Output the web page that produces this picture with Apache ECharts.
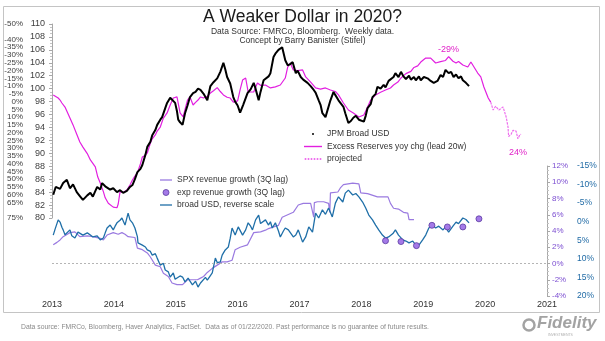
<!DOCTYPE html>
<html><head><meta charset="utf-8">
<script src="https://cdn.jsdelivr.net/npm/echarts@6/dist/echarts.min.js"></script>
<style>html,body{margin:0;padding:0;background:#fff}#c{width:605px;height:341px}</style>
</head><body><div id="c"></div>
<script>
// ---- data (x = decimal year) ----
const jpmUsd = [
[2013.02,83.6],[2013.06,84.8],[2013.13,84.5],[2013.18,85.4],[2013.24,85.9],[2013.29,84.6],[2013.34,85.2],[2013.40,84.0],
[2013.45,83.4],[2013.50,82.8],[2013.57,83.5],[2013.62,83.9],[2013.66,83.3],[2013.73,84.8],[2013.78,84.4],[2013.81,85.4],
[2013.86,84.9],[2013.89,85.2],[2013.94,84.4],[2013.99,84.6],[2014.05,84.0],[2014.10,84.3],[2014.15,83.9],[2014.21,84.2],
[2014.26,84.8],[2014.30,85.1],[2014.34,86.0],[2014.38,87.1],[2014.43,87.6],[2014.46,88.2],[2014.51,89.8],[2014.54,91.0],
[2014.59,91.8],[2014.62,92.8],[2014.67,93.6],[2014.70,94.4],[2014.75,95.2],[2014.78,95.6],[2014.83,97.0],[2014.86,97.8],
[2014.91,98.6],[2014.94,98.9],[2014.99,97.8],[2015.02,96.5],[2015.04,95.2],[2015.07,94.8],[2015.11,94.4],[2015.15,96.2],
[2015.19,97.4],[2015.23,98.7],[2015.28,99.3],[2015.32,99.5],[2015.36,100.0],[2015.40,99.8],[2015.45,99.2],[2015.48,98.7],
[2015.51,98.2],[2015.56,100.4],[2015.61,101.0],[2015.67,101.6],[2015.72,102.6],[2015.77,104.0],[2015.80,103.0],[2015.83,101.8],
[2015.88,100.8],[2015.93,98.7],[2015.96,98.0],[2016.00,97.4],[2016.04,96.3],[2016.09,97.5],[2016.16,99.3],[2016.21,99.9],
[2016.26,100.9],[2016.29,100.0],[2016.34,98.2],[2016.37,99.5],[2016.42,101.3],[2016.45,101.0],[2016.50,101.9],[2016.53,102.4],
[2016.58,104.9],[2016.61,105.4],[2016.66,106.0],[2016.69,105.8],[2016.72,106.4],[2016.77,104.4],[2016.81,103.6],[2016.82,103.4],
[2016.85,103.8],[2016.89,104.1],[2016.94,102.4],[2016.97,102.8],[2017.02,101.8],[2017.06,101.4],[2017.13,100.9],[2017.18,100.4],
[2017.23,99.8],[2017.26,99.4],[2017.31,98.2],[2017.34,97.5],[2017.37,96.2],[2017.42,95.6],[2017.45,95.4],[2017.50,98.2],
[2017.55,99.5],[2017.58,99.0],[2017.63,98.2],[2017.66,98.5],[2017.71,97.2],[2017.74,96.2],[2017.79,94.7],[2017.83,95.0],
[2017.87,95.5],[2017.91,95.8],[2017.96,95.2],[2017.99,95.5],[2018.04,94.9],[2018.07,95.8],[2018.10,97.0],[2018.15,97.6],
[2018.18,98.7],[2018.23,99.2],[2018.26,100.3],[2018.31,100.0],[2018.36,100.6],[2018.39,100.2],[2018.44,101.2],[2018.47,101.0],
[2018.52,101.8],[2018.55,102.4],[2018.60,101.8],[2018.64,102.6],[2018.68,101.9],[2018.72,101.5],[2018.77,102.0],[2018.80,101.4],
[2018.85,101.8],[2018.88,101.3],[2018.93,101.9],[2018.96,101.3],[2019.01,101.8],[2019.07,101.6],[2019.12,101.2],[2019.17,100.9],
[2019.23,101.2],[2019.28,102.1],[2019.32,101.8],[2019.36,102.9],[2019.41,102.4],[2019.45,102.6],[2019.49,101.8],[2019.53,102.2],
[2019.57,101.6],[2019.61,101.9],[2019.64,101.3],[2019.69,100.9],[2019.72,100.6],[2019.74,100.4]
];
const excessReserves = [
[2013.02,-4.3],[2013.05,-3.5],[2013.10,-2.3],[2013.13,-1.0],[2013.16,0.9],[2013.21,3.5],[2013.24,3.0],[2013.29,10.6],
[2013.34,15.0],[2013.40,21.0],[2013.45,26.0],[2013.50,29.3],[2013.57,33.5],[2013.62,37.6],[2013.70,42.0],[2013.74,48.6],
[2013.78,52.4],[2013.83,58.0],[2013.86,62.0],[2013.91,65.5],[2013.94,66.6],[2013.99,68.0],[2014.02,68.6],[2014.05,68.4],
[2014.07,66.0],[2014.10,58.0],[2014.15,58.5],[2014.21,57.0],[2014.26,53.7],[2014.30,50.5],[2014.34,48.0],[2014.38,46.0],
[2014.43,40.0],[2014.46,35.7],[2014.51,34.5],[2014.54,33.1],[2014.59,26.7],[2014.62,24.0],[2014.67,21.5],[2014.70,19.0],
[2014.75,16.4],[2014.80,10.6],[2014.83,9.0],[2014.86,7.3],[2014.91,2.2],[2014.96,-2.3],[2014.99,-3.5],[2015.02,-3.0],
[2015.07,7.3],[2015.12,9.9],[2015.15,5.0],[2015.19,-1.0],[2015.23,-3.0],[2015.28,2.2],[2015.32,0.5],[2015.36,-1.0],
[2015.40,-3.0],[2015.45,-2.3],[2015.51,-3.5],[2015.56,-5.5],[2015.61,-7.0],[2015.67,-9.0],[2015.69,-8.8],[2015.72,-6.5],
[2015.77,-4.3],[2015.83,-2.8],[2015.88,-2.3],[2015.93,0.3],[2016.00,-0.5],[2016.04,-7.5],[2016.08,-13.9],[2016.13,-15.2],
[2016.17,-6.2],[2016.26,-6.2],[2016.32,-12.0],[2016.37,-10.5],[2016.45,-10.7],[2016.53,-8.8],[2016.61,-9.5],[2016.69,-10.7],
[2016.77,-15.2],[2016.81,-22.3],[2016.85,-24.9],[2016.90,-20.4],[2016.97,-20.0],[2017.05,-20.4],[2017.10,-15.9],[2017.18,-12.6],
[2017.26,-8.8],[2017.34,-8.0],[2017.42,-8.8],[2017.50,-7.5],[2017.58,-6.5],[2017.63,-4.3],[2017.71,0.9],[2017.79,5.4],
[2017.87,7.3],[2017.96,9.9],[2018.04,8.6],[2018.10,3.5],[2018.15,-1.0],[2018.23,-4.3],[2018.31,-6.0],[2018.39,-7.5],
[2018.47,-8.8],[2018.52,-10.7],[2018.59,-12.6],[2018.64,-15.2],[2018.72,-18.0],[2018.80,-19.5],[2018.85,-22.0],[2018.91,-23.0],
[2018.96,-25.5],[2019.04,-28.1],[2019.12,-28.0],[2019.20,-24.9],[2019.28,-25.8],[2019.36,-26.5],[2019.41,-29.0],[2019.48,-26.0],
[2019.53,-24.9],[2019.57,-25.8],[2019.64,-23.6],[2019.72,-22.3],[2019.77,-25.5],[2019.82,-22.3],[2019.88,-18.4],[2019.93,-15.9],
[2019.98,-9.4],[2020.05,-2.3],[2020.09,0.3]
];
const projected = [
[2020.09,0.3],[2020.13,5.4],[2020.17,3.0],[2020.22,5.4],[2020.29,3.5],[2020.34,9.9],[2020.37,16.4],[2020.38,22.5],
[2020.42,21.0],[2020.45,18.5],[2020.50,19.0],[2020.53,24.0],[2020.56,21.5],[2020.58,21.0]
];
const spxRevenue = [
[2013.02,2.3],[2013.08,2.6],[2013.13,2.9],[2013.18,3.3],[2013.29,3.8],[2013.37,3.9],[2013.45,3.3],[2013.57,3.4],
[2013.66,3.3],[2013.78,3.1],[2013.83,2.9],[2013.89,3.5],[2013.99,3.8],[2014.07,3.6],[2014.13,3.8],[2014.18,3.6],
[2014.23,3.3],[2014.34,3.2],[2014.38,1.9],[2014.46,1.7],[2014.54,1.3],[2014.59,0.8],[2014.67,-0.2],[2014.75,-0.4],
[2014.80,-1.2],[2014.88,-1.6],[2014.94,-2.4],[2015.02,-2.6],[2015.11,-2.6],[2015.19,-2.0],[2015.27,-2.0],[2015.35,-2.0],
[2015.40,-1.8],[2015.45,-1.6],[2015.51,-1.1],[2015.59,-0.6],[2015.67,-0.2],[2015.75,0.2],[2015.83,0.2],[2015.91,0.4],
[2015.96,1.7],[2016.04,2.0],[2016.16,2.3],[2016.26,3.8],[2016.37,3.9],[2016.45,4.1],[2016.50,4.3],[2016.58,4.5],
[2016.66,4.7],[2016.72,5.7],[2016.81,6.0],[2016.90,6.3],[2016.98,7.2],[2017.06,7.4],[2017.18,7.4],[2017.23,5.7],
[2017.24,7.5],[2017.29,7.6],[2017.39,7.6],[2017.47,7.4],[2017.49,6.3],[2017.50,8.7],[2017.62,8.8],[2017.66,9.3],
[2017.71,9.7],[2017.86,9.9],[2017.96,9.8],[2017.99,8.7],[2018.10,8.6],[2018.26,8.2],[2018.43,8.2],[2018.47,7.4],
[2018.52,6.8],[2018.60,6.7],[2018.68,6.3],[2018.75,6.2],[2018.77,5.4],[2018.85,5.4]
];
const expRevenue = [
[2018.39,2.8],[2018.64,2.7],[2018.89,2.2],[2019.14,4.7],[2019.39,4.5],[2019.64,4.5],[2019.90,5.5]
];
const broadUsdRev = [
[2013.02,3.6],[2013.05,2.0],[2013.10,-0.5],[2013.13,0.1],[2013.16,1.5],[2013.18,2.2],[2013.21,3.5],[2013.24,3.0],
[2013.29,2.2],[2013.32,3.8],[2013.37,4.4],[2013.42,2.8],[2013.45,3.2],[2013.50,3.6],[2013.57,3.0],[2013.62,3.6],
[2013.66,4.1],[2013.73,3.8],[2013.78,4.9],[2013.83,4.4],[2013.86,3.0],[2013.89,1.7],[2013.94,0.9],[2013.99,2.2],
[2014.02,1.2],[2014.05,0.3],[2014.10,-0.4],[2014.13,-1.0],[2014.18,0.9],[2014.23,-2.3],[2014.26,-0.5],[2014.30,0.3],
[2014.34,1.7],[2014.38,4.0],[2014.39,5.7],[2014.46,6.3],[2014.51,6.8],[2014.54,7.6],[2014.59,8.0],[2014.62,9.0],
[2014.67,8.6],[2014.70,9.8],[2014.75,11.7],[2014.80,11.2],[2014.83,13.0],[2014.88,13.5],[2014.91,14.9],[2014.96,13.8],
[2014.99,15.5],[2015.02,15.7],[2015.07,14.6],[2015.11,14.9],[2015.15,16.2],[2015.20,15.2],[2015.23,16.0],[2015.27,17.0],
[2015.32,16.0],[2015.36,17.6],[2015.40,16.5],[2015.43,16.2],[2015.48,15.0],[2015.51,15.7],[2015.56,14.5],[2015.59,13.8],
[2015.64,9.8],[2015.67,11.0],[2015.72,10.8],[2015.75,9.0],[2015.80,7.6],[2015.85,6.8],[2015.88,4.5],[2015.91,1.7],
[2015.96,3.6],[2016.01,1.4],[2016.08,3.6],[2016.13,2.2],[2016.17,0.3],[2016.21,1.2],[2016.24,2.2],[2016.29,-0.5],
[2016.34,-1.8],[2016.37,0.5],[2016.40,0.9],[2016.45,-0.5],[2016.50,0.9],[2016.53,0.0],[2016.56,1.7],[2016.61,0.3],
[2016.66,2.5],[2016.69,4.1],[2016.74,2.5],[2016.77,1.7],[2016.82,2.2],[2016.85,1.7],[2016.90,4.1],[2016.94,3.6],
[2016.98,2.2],[2017.05,5.5],[2017.10,4.1],[2017.15,1.4],[2017.21,2.8],[2017.26,-2.3],[2017.31,-1.0],[2017.37,-3.2],
[2017.42,-2.0],[2017.47,-3.7],[2017.53,-1.3],[2017.58,-5.0],[2017.63,-6.7],[2017.70,-5.3],[2017.74,-7.7],[2017.79,-8.5],
[2017.86,-7.2],[2017.91,-7.6],[2017.96,-6.7],[2018.02,-5.3],[2018.07,-3.7],[2018.12,-1.8],[2018.18,-0.5],[2018.23,0.9],
[2018.28,2.2],[2018.34,3.6],[2018.39,4.4],[2018.44,4.1],[2018.51,3.2],[2018.55,2.2],[2018.60,3.6],[2018.67,4.9],
[2018.72,5.2],[2018.77,5.7],[2018.83,5.2],[2018.88,6.3],[2018.93,6.3],[2018.99,4.9],[2019.04,3.6],[2019.09,1.7],
[2019.15,0.9],[2019.20,1.7],[2019.25,1.2],[2019.32,2.2],[2019.36,1.4],[2019.41,2.8],[2019.48,1.2],[2019.53,0.1],
[2019.57,0.5],[2019.64,-1.0],[2019.69,-0.6],[2019.74,0.3]
];
const yearRange = [2013, 2021];
const usdRange = [80, 110];
const reservesRange = [-50, 75];
const spxRange = [-4, 12];
const usdRevRange = [-15, 20];

const FONT = '"Liberation Sans", Arial, sans-serif';
const AX = '#a8a8a8';
const MAG = '#e21fe0', MAG2 = '#ee70ee', PUR = '#9a7ae0', BLU = '#1f6fa8';
const pct = v => v + '%';
const hline = 'path://M0,0h12v1.3h-12z';
const dots = 'path://M0,0h1.6v2h-1.6zM3,0h1.6v2h-1.6zM6,0h1.6v2h-1.6zM9,0h1.6v2h-1.6zM12,0h1.6v2h-1.6zM15,0h1.6v2h-1.6z';

const chart = echarts.init(document.getElementById('c'), null, {renderer: 'canvas'});
chart.setOption({
  animation: false,
  backgroundColor: '#fff',
  textStyle: {fontFamily: FONT},
  title: [
    {text: 'A Weaker Dollar in 2020?', subtext: 'Data Source: FMRCo, Bloomberg.  Weekly data.\nConcept by Barry Banister (Stifel)',
     left: 'center', top: 8, padding: 0, itemGap: 1,
     textStyle: {fontSize: 17.5, fontWeight: 'normal', color: '#1a1a1a', fontFamily: FONT},
     subtextStyle: {fontSize: 8.5, lineHeight: 9, color: '#333', fontFamily: FONT}},
    {text: 'Data source: FMRCo, Bloomberg, Haver Analytics, FactSet.  Data as of 01/22/2020. Past performance is no guarantee of future results.',
     left: 21, top: 324, padding: 0,
     textStyle: {fontSize: 6.8, fontWeight: 'normal', color: '#8a8a8a', fontFamily: FONT}}
  ],
  grid: [
    {left: 52, right: 58, top: 24, height: 194, containLabel: false, outerBoundsMode: 'none'},
    {left: 52, right: 58, top: 166, height: 130, containLabel: false, outerBoundsMode: 'none'}
  ],
  xAxis: [
    {gridIndex: 0, type: 'value', min: yearRange[0], max: yearRange[1], interval: 1, show: false},
    {gridIndex: 1, type: 'value', min: yearRange[0], max: yearRange[1], interval: 1,
     axisLine: {show: false, onZero: false}, axisTick: {show: false}, splitLine: {show: false},
     axisLabel: {fontSize: 9, color: '#333', margin: 4, showMinLabel: true, showMaxLabel: true, hideOverlap: false,
                 formatter: v => String(v)}}
  ],
  yAxis: [
    {gridIndex: 0, type: 'value', min: usdRange[0], max: usdRange[1], interval: 2, position: 'left',
     axisLine: {show: true, onZero: false, lineStyle: {color: AX}}, axisTick: {show: true, length: 3, lineStyle: {color: AX}},
     minorTick: {show: true, splitNumber: 4, length: 2, lineStyle: {color: '#c4c4c4'}}, splitLine: {show: false},
     axisLabel: {fontSize: 9, color: '#404040', margin: 7, hideOverlap: false, showMinLabel: true, showMaxLabel: true}},
    {gridIndex: 0, type: 'value', min: reservesRange[0], max: reservesRange[1], interval: 5, inverse: true, position: 'left', offset: 22,
     axisLine: {show: false, onZero: false}, axisTick: {show: false}, splitLine: {show: false},
     axisLabel: {fontSize: 8, lineHeight: 7, color: '#404040', margin: 7, hideOverlap: false, showMinLabel: true, showMaxLabel: true, formatter: pct}},
    {gridIndex: 1, type: 'value', min: spxRange[0], max: spxRange[1], interval: 2, position: 'right',
     axisLine: {show: true, onZero: false, lineStyle: {color: AX}}, axisTick: {show: true, length: 3, lineStyle: {color: AX}},
     minorTick: {show: true, splitNumber: 4, length: 2, lineStyle: {color: '#c4c4c4'}}, splitLine: {show: false},
     axisLabel: {fontSize: 8, color: '#7c4ed1', margin: 5, hideOverlap: false, showMinLabel: true, showMaxLabel: true, formatter: pct}},
    {gridIndex: 1, type: 'value', min: usdRevRange[0], max: usdRevRange[1], interval: 5, inverse: true, position: 'right', offset: 26,
     axisLine: {show: false, onZero: false}, axisTick: {show: false}, splitLine: {show: false},
     axisLabel: {fontSize: 8.5, color: '#1f6aa5', margin: 4, hideOverlap: false, showMinLabel: true, showMaxLabel: true, formatter: pct}}
  ],
  legend: [
    {orient: 'vertical', left: 304, top: 129, padding: 0, itemWidth: 18, itemHeight: 2, itemGap: 2.5, selectedMode: false,
     itemStyle: {borderWidth: 0},
     textStyle: {fontSize: 8.5, color: '#333', lineHeight: 10, fontFamily: FONT},
     data: [{name: 'JPM Broad USD', icon: 'circle'},
            {name: 'Excess Reserves yoy chg (lead 20w)', icon: 'path://M0,0h18v1.4h-18z'},
            {name: 'projected', icon: dots}]},
    {orient: 'vertical', left: 160, top: 175, padding: 0, itemWidth: 12, itemHeight: 6, itemGap: 2.5, selectedMode: false,
     itemStyle: {borderWidth: 0},
     textStyle: {fontSize: 8.5, color: '#333', lineHeight: 10, fontFamily: FONT},
     data: [{name: 'SPX revenue growth (3Q lag)', icon: hline},
            {name: 'exp revenue growth (3Q lag)', icon: 'circle', itemStyle: {borderWidth: 0.8, borderColor: '#5b3aa0'}},
            {name: 'broad USD, reverse scale', icon: hline}]}
  ],
  series: [
    {name: 'Excess Reserves yoy chg (lead 20w)', type: 'line', xAxisIndex: 0, yAxisIndex: 1, data: excessReserves,
     symbol: 'none', z: 2, lineStyle: {color: MAG, width: 1.2}, itemStyle: {color: MAG},
     markPoint: {symbol: 'circle', symbolSize: 1, itemStyle: {color: 'rgba(0,0,0,0)'},
       label: {show: true, position: 'top', distance: 2, fontSize: 9, color: '#e020c8', fontFamily: FONT,
               formatter: p => Math.round(p.value) + '%'},
       data: [{type: 'min', valueDim: 'y'}]}},
    {name: 'projected', type: 'line', xAxisIndex: 0, yAxisIndex: 1, data: projected,
     symbol: 'none', z: 2, lineStyle: {color: MAG2, width: 1.2, type: [2.5, 1]}, itemStyle: {color: MAG2},
     markPoint: {symbol: 'circle', symbolSize: 1, itemStyle: {color: 'rgba(0,0,0,0)'},
       label: {show: true, position: 'bottom', distance: 9, fontSize: 9, color: '#e020c8', fontFamily: FONT,
               formatter: p => Math.round(p.value) + '%'},
       data: [{type: 'max', valueDim: 'y'}]}},
    {name: 'JPM Broad USD', type: 'line', xAxisIndex: 0, yAxisIndex: 0, data: jpmUsd,
     symbol: 'none', z: 3, lineStyle: {color: '#000', width: 2}, itemStyle: {color: '#000'}},
    {name: 'SPX revenue growth (3Q lag)', type: 'line', xAxisIndex: 1, yAxisIndex: 2, data: spxRevenue,
     symbol: 'none', z: 2, lineStyle: {color: PUR, width: 1.2}, itemStyle: {color: PUR},
     markLine: {silent: true, symbol: 'none', label: {show: false},
       lineStyle: {color: '#b5b5b5', type: [2, 2], width: 1}, data: [{yAxis: 0}]}},
    {name: 'broad USD, reverse scale', type: 'line', xAxisIndex: 1, yAxisIndex: 3, data: broadUsdRev,
     symbol: 'none', z: 3, lineStyle: {color: BLU, width: 1.3}, itemStyle: {color: BLU}},
    {name: 'exp revenue growth (3Q lag)', type: 'scatter', xAxisIndex: 1, yAxisIndex: 2, data: expRevenue,
     symbolSize: 6, z: 4, itemStyle: {color: '#a47ae8', borderColor: '#5b3aa0', borderWidth: 0.8, opacity: 1}}
  ],
  graphic: [
    {type: 'rect', silent: true, z: -10, shape: {x: 3.5, y: 6.5, width: 596, height: 306},
     style: {fill: 'none', stroke: '#c4c4c4', lineWidth: 1}},
    {type: 'circle', silent: true, shape: {cx: 529, cy: 325, r: 5.5}, style: {fill: 'none', stroke: '#a3a3a3', lineWidth: 2.5}},
    {type: 'text', silent: true, left: 537, top: 315, style: {text: 'Fidelity', font: 'italic bold 17px "Liberation Sans", Arial', fill: '#a3a3a3'}},
    {type: 'text', silent: true, left: 548, top: 333, style: {text: 'INVESTMENTS', font: '3.5px "Liberation Sans", Arial', fill: '#b0b0b0'}}
  ]
});
</script></body></html>
